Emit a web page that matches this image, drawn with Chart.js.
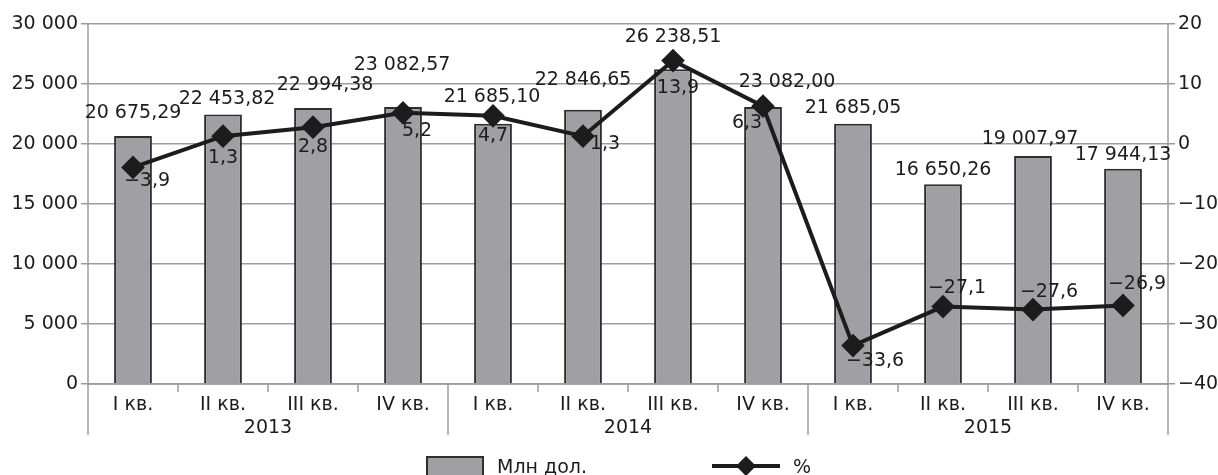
<!DOCTYPE html>
<html>
<head>
<meta charset="utf-8">
<script src="https://cdn.jsdelivr.net/npm/chart.js@4/dist/chart.umd.min.js"></script>
<style>
  html, body { margin: 0; padding: 0; background: #fff; }
  #wrap { width: 1218px; height: 475px; }
</style>
</head>
<body>
<div id="wrap"><canvas id="chart" width="1218" height="475"></canvas></div>
<script>
// data
const years = ['2013', '2014', '2015'];
const quarters = ['I кв.', 'II кв.', 'III кв.', 'IV кв.'];
const exportMln = [20675.29, 22453.82, 22994.38, 23082.57, 21685.10, 22846.65, 26238.51, 23082.00, 21685.05, 16650.26, 19007.97, 17944.13];
const changePct = [-3.9, 1.3, 2.8, 5.2, 4.7, 1.3, 13.9, 6.3, -33.6, -27.1, -27.6, -26.9];
const leftAxis = { min: 0, max: 30000, step: 5000 };
const rightAxis = { min: -40, max: 20, step: 10 };

const categories = [];
years.forEach(y => quarters.forEach(q => categories.push(q)));

// label nudges (placement of the data labels, px)
const valueLabelShift = [[0, 23], [4, 15], [12, 23], [-1, 42], [-1, 27], [0, 30], [0, 32], [24, 25], [0, 16], [0, 14], [-3, 17], [0, 14]];
const pctLabelShift = [[14, 14], [0, 22], [0, 20], [14, 18], [0, 20], [22, 8], [5, 27], [-16, 17], [22, 15], [14, -19], [16, -18], [14, -21]];

const FONT = '19px "DejaVu Sans"';
const TEXT = '#1f1b1c';
const GRID = '#9d9d9d';
const BAR = '#a0a0a4';
const BAR_EDGE = '#2e2e2e';
const LINE = '#1c1c1c';

function fmtNum(v, d) {
  const s = Math.abs(v).toFixed(d).split('.');
  const int = s[0].replace(/\B(?=(\d{3})+(?!\d))/g, ' ');
  return (v < 0 ? '−' : '') + int + (d ? ',' + s[1] : '');
}

const decor = {
  id: 'decor',
  afterDatasetsDraw(chart) {
    const { ctx, chartArea: a, scales } = chart;
    const x = scales.x, yL = scales.y, yR = scales.y1;
    ctx.save();
    ctx.strokeStyle = GRID;
    ctx.lineWidth = 1.5;
    ctx.beginPath();
    ctx.moveTo(a.left, a.bottom); ctx.lineTo(a.right, a.bottom);
    ctx.moveTo(a.left, a.top); ctx.lineTo(a.left, a.bottom + 51);
    ctx.moveTo(a.right, a.top); ctx.lineTo(a.right, a.bottom + 51);
    for (let i = 1; i < categories.length; i++) {
      const bx = (x.getPixelForValue(i - 1) + x.getPixelForValue(i)) / 2;
      ctx.moveTo(bx, a.bottom);
      ctx.lineTo(bx, a.bottom + (i % 4 === 0 ? 51 : 8));
    }
    ctx.stroke();

    ctx.fillStyle = TEXT;
    ctx.font = FONT;
    ctx.textAlign = 'center';
    ctx.textBaseline = 'middle';
    categories.forEach((c, i) => ctx.fillText(c, x.getPixelForValue(i), a.bottom + 21));
    years.forEach((y, k) => {
      const cx = (x.getPixelForValue(k * 4) + x.getPixelForValue(k * 4 + 3)) / 2;
      ctx.fillText(y, cx, a.bottom + 44);
    });

    // data labels
    exportMln.forEach((v, i) => {
      const [dx, dy] = valueLabelShift[i];
      ctx.fillText(fmtNum(v, 2), x.getPixelForValue(i) + dx, yL.getPixelForValue(v) - dy);
    });
    changePct.forEach((v, i) => {
      const [dx, dy] = pctLabelShift[i];
      ctx.fillText(fmtNum(v, 1), x.getPixelForValue(i) + dx, yR.getPixelForValue(v) + dy);
    });

    // legend
    const ly = 466;
    const ds = chart.data.datasets;
    ctx.fillStyle = BAR;
    ctx.strokeStyle = BAR_EDGE;
    ctx.lineWidth = 2;
    ctx.fillRect(427, 457, 56, 22);
    ctx.strokeRect(427, 457, 56, 22);
    ctx.fillStyle = TEXT;
    ctx.textAlign = 'left';
    ctx.fillText(ds[0].label, 497, ly + 2);
    ctx.strokeStyle = LINE;
    ctx.lineWidth = 4;
    ctx.beginPath(); ctx.moveTo(712, ly); ctx.lineTo(780, ly); ctx.stroke();
    ctx.fillStyle = LINE;
    ctx.beginPath();
    ctx.moveTo(746, ly - 10); ctx.lineTo(756, ly); ctx.lineTo(746, ly + 10); ctx.lineTo(736, ly);
    ctx.closePath(); ctx.fill();
    ctx.fillStyle = TEXT;
    ctx.fillText(ds[1].label, 793, ly + 2);
    ctx.restore();
  }
};

new Chart(document.getElementById('chart'), {
  type: 'bar',
  data: {
    labels: categories,
    datasets: [{
      type: 'bar',
      label: 'Млн дол.',
      data: exportMln,
      yAxisID: 'y',
      backgroundColor: BAR,
      borderColor: BAR_EDGE,
      borderWidth: 2,
      barPercentage: 0.42,
      categoryPercentage: 1,
      order: 2
    }, {
      type: 'line',
      label: '%',
      data: changePct,
      yAxisID: 'y1',
      borderColor: LINE,
      borderWidth: 4,
      pointStyle: 'rectRot',
      pointRadius: 9,
      pointBackgroundColor: LINE,
      pointBorderColor: LINE,
      tension: 0,
      order: 1
    }]
  },
  options: {
    responsive: false,
    animation: false,
    devicePixelRatio: 1,
    layout: { padding: { top: 24, left: 0, right: 0, bottom: 0 } },
    plugins: { legend: { display: false }, tooltip: { enabled: false } },
    scales: {
      x: {
        grid: { display: false },
        border: { display: false },
        ticks: { display: false },
        afterFit(s) { s.height = 91; }
      },
      y: {
        position: 'left',
        min: leftAxis.min, max: leftAxis.max,
        grid: { color: GRID, lineWidth: 1.5, tickLength: 7 },
        border: { display: false },
        ticks: {
          stepSize: leftAxis.step,
          color: TEXT,
          font: { family: 'DejaVu Sans', size: 19 },
          padding: 3,
          callback: v => fmtNum(v, 0)
        },
        afterFit(s) { s.width = 88; }
      },
      y1: {
        position: 'right',
        min: rightAxis.min, max: rightAxis.max,
        grid: { drawOnChartArea: false, color: GRID, lineWidth: 1.5, tickLength: 7 },
        border: { display: false },
        ticks: {
          stepSize: rightAxis.step,
          color: TEXT,
          font: { family: 'DejaVu Sans', size: 19 },
          padding: 3,
          callback: v => fmtNum(v, 0)
        },
        afterFit(s) { s.width = 50; }
      }
    }
  },
  plugins: [decor]
});
</script>
</body>
</html>
